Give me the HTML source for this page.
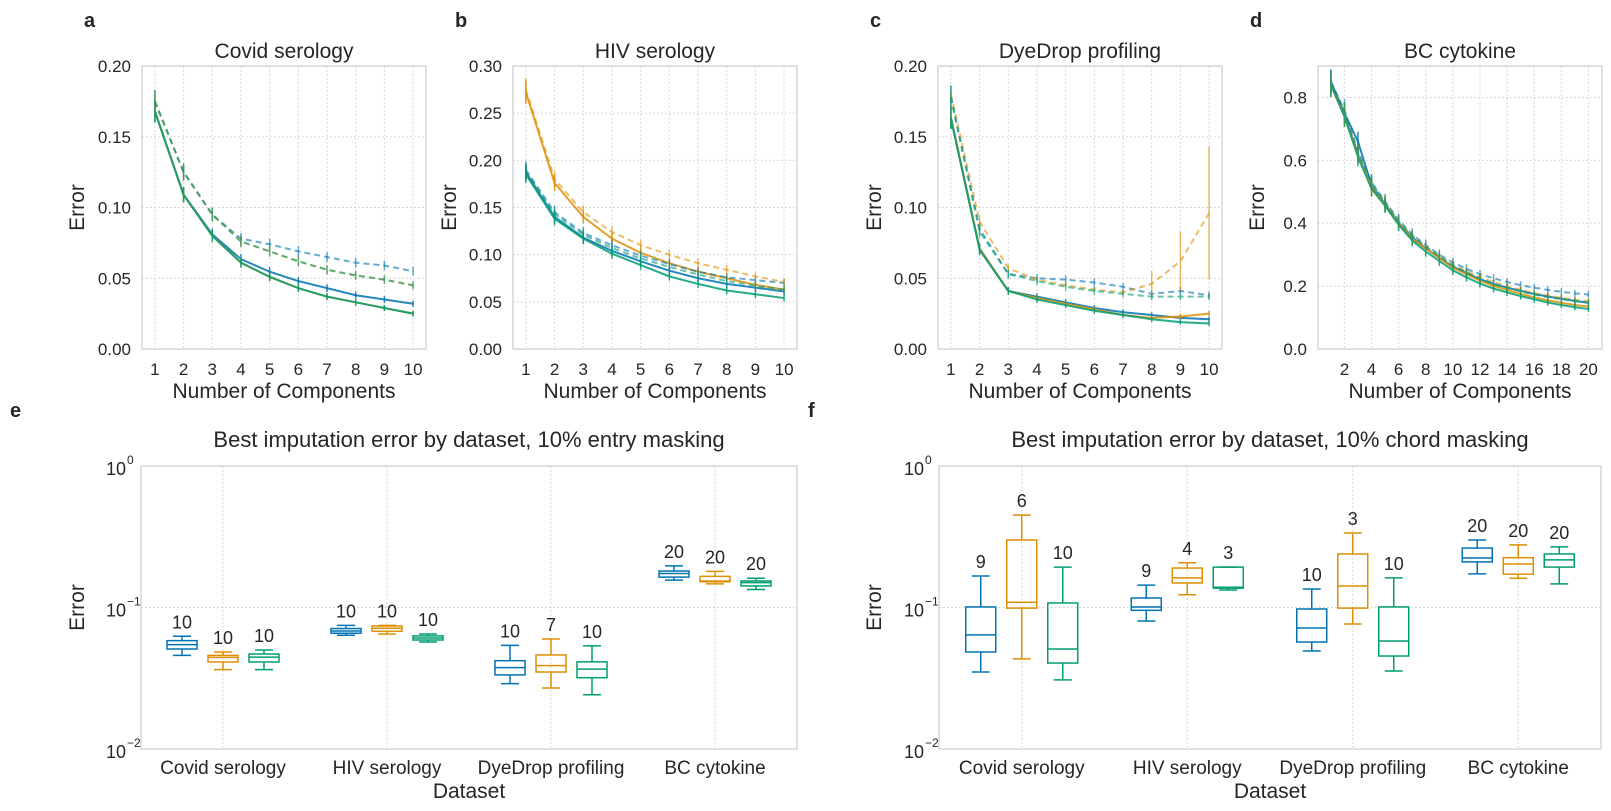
<!DOCTYPE html>
<html><head><meta charset="utf-8"><style>
body{margin:0;background:#fff}
svg{display:block;font-family:"Liberation Sans",Arial,sans-serif}
</style></head><body>
<svg id="fig" width="1611" height="811" viewBox="0 0 1611 811" xmlns="http://www.w3.org/2000/svg"></svg>
<script>
// ---------- data ----------
const compsA = [1,2,3,4,5,6,7,8,9,10];
const compsD = [1,2,3,4,5,6,7,8,9,10,11,12,13,14,15,16,17,18,19,20];
// Panel a: Covid serology
const aBlueSolid  = [0.168,0.109,0.081,0.0635,0.0546,0.048,0.043,0.038,0.035,0.032];
const aOrangeSolid= [0.168,0.109,0.080,0.061,0.051,0.043,0.037,0.033,0.029,0.025];
const aGreenSolid = [0.168,0.109,0.080,0.061,0.051,0.043,0.037,0.033,0.029,0.025];
const aBlueDash   = [0.175,0.125,0.095,0.078,0.074,0.069,0.065,0.061,0.059,0.055];
const aOrangeDash = [0.175,0.125,0.095,0.076,0.069,0.062,0.056,0.052,0.049,0.045];
const aGreenDash  = [0.175,0.125,0.095,0.076,0.069,0.062,0.056,0.052,0.049,0.045];
// Panel b: HIV serology
const bBlueSolid  = [0.187,0.140,0.118,0.104,0.093,0.083,0.075,0.069,0.065,0.061];
const bOrangeSolid= [0.272,0.176,0.140,0.117,0.102,0.091,0.082,0.075,0.068,0.063];
const bGreenSolid = [0.185,0.138,0.117,0.101,0.089,0.077,0.069,0.062,0.058,0.054];
const bBlueDash   = [0.190,0.145,0.123,0.110,0.099,0.090,0.082,0.076,0.073,0.070];
const bOrangeDash = [0.275,0.180,0.145,0.124,0.110,0.100,0.091,0.084,0.077,0.071];
const bGreenDash  = [0.188,0.143,0.121,0.107,0.096,0.087,0.079,0.072,0.067,0.063];
// Panel c: DyeDrop profiling
const cBlueSolid  = [0.163,0.071,0.041,0.037,0.033,0.029,0.026,0.024,0.022,0.021];
const cOrangeSolid= [0.164,0.071,0.041,0.036,0.032,0.028,0.024,0.022,0.023,0.025];
const cGreenSolid = [0.163,0.070,0.041,0.035,0.031,0.027,0.024,0.021,0.019,0.018];
const cBlueDash   = [0.178,0.085,0.053,0.050,0.049,0.047,0.044,0.039,0.041,0.038];
const cOrangeDash = [0.180,0.090,0.057,0.049,0.045,0.042,0.040,0.046,0.062,0.096];
const cGreenDash  = [0.178,0.083,0.053,0.048,0.044,0.041,0.039,0.037,0.037,0.037];
const cOrangeDashErr = [0.003,0.004,0.003,0.002,0.002,0.002,0.002,0.009,0.021,0.047];
// Panel d: BC cytokine
const dBlueSolid  = [0.85,0.75,0.66,0.52,0.46,0.40,0.355,0.32,0.29,0.262,0.242,0.222,0.207,0.195,0.185,0.175,0.167,0.160,0.153,0.147];
const dOrangeSolid= [0.84,0.74,0.62,0.51,0.46,0.40,0.35,0.32,0.29,0.258,0.238,0.217,0.200,0.188,0.175,0.164,0.155,0.147,0.140,0.135];
const dGreenSolid = [0.84,0.74,0.61,0.51,0.455,0.395,0.345,0.31,0.28,0.250,0.228,0.208,0.192,0.180,0.168,0.158,0.148,0.140,0.133,0.127];
const dBlueDash   = [0.85,0.76,0.63,0.53,0.47,0.41,0.365,0.33,0.30,0.275,0.255,0.238,0.225,0.213,0.203,0.195,0.188,0.182,0.177,0.173];
const dOrangeDash = [0.84,0.75,0.62,0.52,0.465,0.405,0.36,0.325,0.295,0.268,0.248,0.228,0.213,0.200,0.188,0.178,0.170,0.163,0.157,0.152];
const dGreenDash  = [0.84,0.75,0.62,0.53,0.465,0.405,0.36,0.325,0.295,0.265,0.243,0.223,0.207,0.195,0.183,0.173,0.165,0.158,0.152,0.147];
// Box plots (e: entry masking, f: chord masking) - [whiskerLow, q1, median, q3, whiskerHigh]
const datasets = ["Covid serology","HIV serology","DyeDrop profiling","BC cytokine"];
const eBlue   = [[0.0459,0.0509,0.0546,0.0583,0.0626],[0.0636,0.0658,0.0682,0.0710,0.0748],[0.0290,0.0334,0.0376,0.0421,0.0540],[0.156,0.164,0.174,0.181,0.197]];
const eOrange = [[0.0364,0.0412,0.0444,0.0459,0.0485],[0.0650,0.0679,0.0713,0.0740,0.0748],[0.0270,0.0350,0.0388,0.0462,0.0599],[0.147,0.152,0.154,0.166,0.180]];
const eGreen  = [[0.0364,0.0412,0.0446,0.0469,0.0501],[0.0570,0.0589,0.0609,0.0630,0.0650],[0.0242,0.0319,0.0367,0.0413,0.0536],[0.134,0.142,0.150,0.154,0.161]];
const eCounts = [[10,10,10],[10,10,10],[10,7,10],[20,20,20]];
const fBlue   = [[0.035,0.0485,0.064,0.1009,0.167],[0.0803,0.0955,0.1009,0.1167,0.144],[0.0493,0.057,0.0716,0.0976,0.135],[0.173,0.210,0.224,0.263,0.30]];
const fOrange = [[0.0433,0.099,0.109,0.30,0.45],[0.123,0.149,0.162,0.190,0.207],[0.0764,0.099,0.142,0.239,0.336],[0.161,0.172,0.203,0.225,0.277]];
const fGreen  = [[0.0308,0.0405,0.0509,0.1076,0.193],[0.133,0.137,0.139,0.193,0.193],[0.0356,0.0454,0.058,0.1009,0.162],[0.147,0.193,0.217,0.239,0.268]];
const fCounts = [[9,6,10],[9,4,3],[10,3,10],[20,20,20]];
const yTicksA = [0,0.05,0.10,0.15,0.20];
const yTicksB = [0,0.05,0.10,0.15,0.20,0.25,0.30];
const yTicksD = [0,0.2,0.4,0.6,0.8];
const xTicksD = [2,4,6,8,10,12,14,16,18,20];

// ---------- helpers ----------
const NS="http://www.w3.org/2000/svg";
const svg=document.getElementById('fig');
const BLUE="#0173b2",ORANGE="#de8f05",GREEN="#029e73",TXT="#262626",GRID="#cccccc";
function mk(tag,attrs,parent){const e=document.createElementNS(NS,tag);for(const k in attrs)e.setAttribute(k,attrs[k]);(parent||svg).appendChild(e);return e;}
function txt(s,x,y,size,opts,parent){const t=mk('text',Object.assign({x:x,y:y,'font-size':size,fill:TXT,'text-anchor':'middle'},opts||{}),parent);t.textContent=s;return t;}

function linePanel(cfg){
  const g=mk('g',{});
  
  
  const {L,R,T,B,xmin,xmax,ymax}=cfg;
  const X=v=>L+(v-xmin)/(xmax-xmin)*(R-L);
  const Y=v=>B-v/ymax*(B-T);
  cfg.xticks.forEach(v=>{const l=mk('line',{x1:X(v),x2:X(v),y1:T,y2:B,stroke:GRID,'stroke-dasharray':'1.5,2.5','stroke-width':1},g);
    const t=txt(String(v),X(v),B+26,17,{},g);});
  cfg.yticks.forEach(v=>{if(v>0&&v<ymax){const l=mk('line',{x1:L,x2:R,y1:Y(v),y2:Y(v),stroke:GRID,'stroke-dasharray':'1.5,2.5','stroke-width':1},g);}
    const t=txt(v.toFixed(cfg.dec),L-11,Y(v)+6,17,{'text-anchor':'end'},g);});
  const fr=mk('rect',{x:L,y:T,width:R-L,height:B-T,fill:'none',stroke:GRID,'stroke-width':1.2},g);
  
  cfg.series.forEach(s=>{
    const pts=s.v.map((v,i)=>X(cfg.xs[i])+','+Y(v)).join(' ');
    const p=mk('polyline',{points:pts,fill:'none',stroke:s.c,'stroke-width':2,opacity:s.dash?0.6:0.85,'stroke-dasharray':s.dash?'6,4':'none'},g);
    
    s.v.forEach((v,i)=>{const e=s.err?s.err[i]:v*0.04+0.001*ymax/0.2;
      const l=mk('line',{x1:X(cfg.xs[i]),x2:X(cfg.xs[i]),y1:Y(v-e),y2:Y(v+e),stroke:s.c,'stroke-width':1.5,opacity:s.dash?0.6:0.85},g);
      });
  });
  const tt=txt(cfg.title,(L+R)/2,58,21,{},g);
  const xl=txt('Number of Components',(L+R)/2,398,21,{},g);
  const yl=txt('Error',0,0,21,{transform:`translate(${cfg.ylx},${(T+B)/2}) rotate(-90)`},g);
  const pl=txt(cfg.letter,cfg.lx,27,20,{'font-weight':'bold','text-anchor':'start'},g);
}

function ser(b,o,g,bd,od,gd,odErr){return [
  {n:'blue-solid-line',c:BLUE,v:b},{n:'orange-solid-line',c:ORANGE,v:o},{n:'green-solid-line',c:GREEN,v:g},
  {n:'blue-dashed-line',c:BLUE,v:bd,dash:1},{n:'orange-dashed-line',c:ORANGE,v:od,dash:1,err:odErr},{n:'green-dashed-line',c:GREEN,v:gd,dash:1}];}

linePanel({name:'panel-a-covid',letter:'a',lx:84,ylx:84,title:'Covid serology',L:142,R:426,T:66,B:349,xmin:0.55,xmax:10.45,ymax:0.2,dec:2,xs:compsA,xticks:compsA,yticks:yTicksA,
  series:ser(aBlueSolid,aOrangeSolid,aGreenSolid,aBlueDash,aOrangeDash,aGreenDash)});
linePanel({name:'panel-b-hiv',letter:'b',lx:455,ylx:456,title:'HIV serology',L:513,R:797,T:66,B:349,xmin:0.55,xmax:10.45,ymax:0.3,dec:2,xs:compsA,xticks:compsA,yticks:yTicksB,
  series:ser(bBlueSolid,bOrangeSolid,bGreenSolid,bBlueDash,bOrangeDash,bGreenDash)});
linePanel({name:'panel-c-dyedrop',letter:'c',lx:870,ylx:881,title:'DyeDrop profiling',L:938,R:1222,T:66,B:349,xmin:0.55,xmax:10.45,ymax:0.2,dec:2,xs:compsA,xticks:compsA,yticks:yTicksA,
  series:ser(cBlueSolid,cOrangeSolid,cGreenSolid,cBlueDash,cOrangeDash,cGreenDash,cOrangeDashErr)});
linePanel({name:'panel-d-bc',letter:'d',lx:1250,ylx:1264,title:'BC cytokine',L:1318,R:1602,T:66,B:349,xmin:0.05,xmax:21.0,ymax:0.9,dec:1,xs:compsD,xticks:xTicksD,yticks:yTicksD,
  series:ser(dBlueSolid,dOrangeSolid,dGreenSolid,dBlueDash,dOrangeDash,dGreenDash)});

function boxPanel(cfg){
  const g=mk('g',{});
  
  
  const {L,R,T,B}=cfg;
  const Y=v=>T+(0-Math.log10(v))/2*(B-T);
  const step=(R-L)/4;
  const CX=i=>L+step*(i+0.5);
  datasets.forEach((d,i)=>{
    const l=mk('line',{x1:CX(i),x2:CX(i),y1:T,y2:B,stroke:GRID,'stroke-dasharray':'1.5,2.5'},g);
    const t=txt(d,CX(i),B+25,19,{},g);
  });
  const gl=mk('line',{x1:L,x2:R,y1:Y(0.1),y2:Y(0.1),stroke:GRID,'stroke-dasharray':'1.5,2.5'},g);
  [[0,Y(1)],[-1,Y(0.1)],[-2,Y(0.01)]].forEach(([e,y])=>{
    const t=mk('text',{x:L-15,y:y+9,'font-size':18,fill:TXT,'text-anchor':'end'},g);t.textContent='10';
    
    const s=mk('text',{x:L-14,y:y-2,'font-size':12,fill:TXT,'text-anchor':'start'},g);s.textContent=e===0?'0':'\u2212'+(-e);
    
  });
  const fr=mk('rect',{x:L,y:T,width:R-L,height:B-T,fill:'none',stroke:GRID,'stroke-width':1.2},g);
  const groups=[[cfg.blue,BLUE,-1],[cfg.orange,ORANGE,0],[cfg.green,GREEN,1]];
  const w=30,off=41,cap=9;
  datasets.forEach((d,i)=>{
    groups.forEach(([arr,c,k],j)=>{
      const [wl,q1,med,q3,wh]=arr[i];const x=CX(i)+k*off;
      const bg=mk('g',{stroke:c,'stroke-width':1.5,fill:'none'},g);
      
      mk('rect',{x:x-w/2,y:Y(q3),width:w,height:Math.max(1,Y(q1)-Y(q3))},bg);
      mk('line',{x1:x-w/2,x2:x+w/2,y1:Y(med),y2:Y(med)},bg);
      mk('line',{x1:x,x2:x,y1:Y(q3),y2:Y(wh)},bg);
      mk('line',{x1:x,x2:x,y1:Y(q1),y2:Y(wl)},bg);
      mk('line',{x1:x-cap,x2:x+cap,y1:Y(wh),y2:Y(wh)},bg);
      mk('line',{x1:x-cap,x2:x+cap,y1:Y(wl),y2:Y(wl)},bg);
      const t=txt(String(cfg.counts[i][j]),x,Y(wh)-8,18,{},g);
    });
  });
  const tt=txt(cfg.title,(L+R)/2,447,22,{},g);
  const xl=txt('Dataset',(L+R)/2,798,21,{},g);
  const yl=txt('Error',0,0,21,{transform:`translate(${cfg.ylx},${(T+B)/2}) rotate(-90)`},g);
  const pl=txt(cfg.letter,cfg.lx,417,20,{'font-weight':'bold','text-anchor':'start'},g);
}
boxPanel({name:'panel-e-entry-masking',letter:'e',lx:10,ylx:84,title:'Best imputation error by dataset, 10% entry masking',L:141,R:797,T:466,B:749,blue:eBlue,orange:eOrange,green:eGreen,counts:eCounts});
boxPanel({name:'panel-f-chord-masking',letter:'f',lx:808,ylx:881,title:'Best imputation error by dataset, 10% chord masking',L:939,R:1601,T:466,B:749,blue:fBlue,orange:fOrange,green:fGreen,counts:fCounts});
</script>
</body></html>
